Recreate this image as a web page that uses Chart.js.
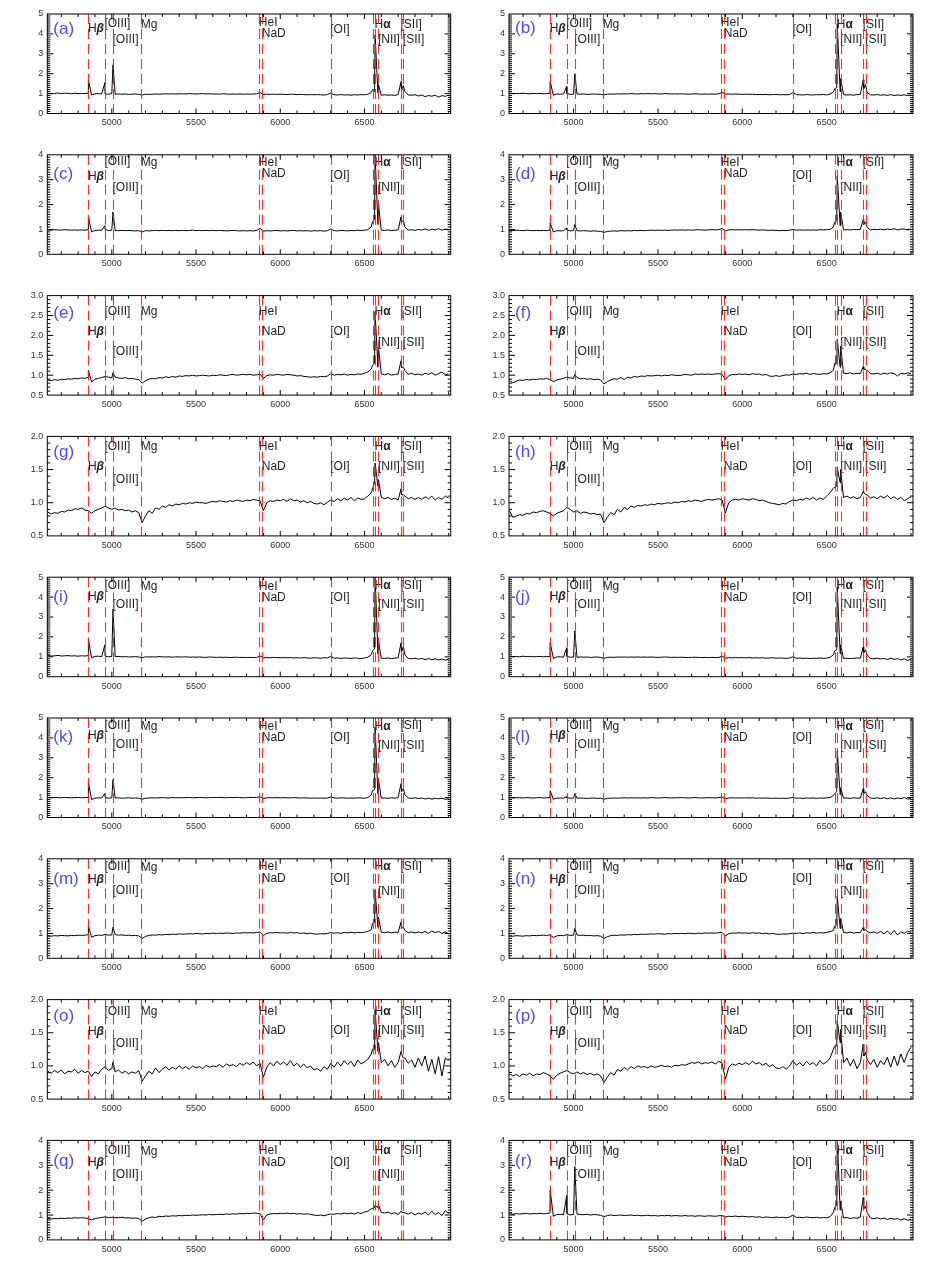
<!DOCTYPE html>
<html><head><meta charset="utf-8">
<script src="https://cdn.jsdelivr.net/npm/chart.js@4.4.1/dist/chart.umd.min.js"></script>
<style>
html,body{margin:0;padding:0;background:#fff;}
body{width:926px;height:1269px;position:relative;overflow:hidden;}
canvas{position:absolute;}
</style></head><body>
<script>
// ---------------- DATA ----------------
const gridWave = [4620,4640,4660,4680,4700,4720,4740,4760,4780,4800,
4820,4840,4860,4880,4900,4920,4940,4960,4980,5000,
5020,5040,5060,5080,5100,5120,5140,5160,5180,5200,
5220,5240,5260,5280,5300,5320,5340,5360,5380,5400,
5420,5440,5460,5480,5500,5520,5540,5560,5580,5600,
5620,5640,5660,5680,5700,5720,5740,5760,5780,5800,
5820,5840,5860,5880,5900,5920,5940,5960,5980,6000,
6020,6040,6060,6080,6100,6120,6140,6160,6180,6200,
6220,6240,6260,6280,6300,6320,6340,6360,6380,6400,
6420,6440,6460,6480,6500,6520,6540,6560,6580,6600,
6620,6640,6660,6680,6700,6720,6740,6760,6780,6800,
6820,6840,6860,6880,6900,6920,6940,6960,6980,7000];

// emission-line peak wavelengths (Hb, [OIII]4959, [OIII]5007, [NII]6548, Ha, [NII]6583, [SII]6717, [SII]6731)
const peakWave = [4861,4959,5007,6548,6563,6583,6717,6731];
// marker (dashed) line wavelengths
const markerWave = [4861,4959,5007,5175,5876,5893,6300,6548,6563,6583,6717,6731];

const xTickValues = [5000,5500,6000,6500];
const yTicks5 = [0,1,2,3,4,5];
const yTicks4 = [0,1,2,3,4];
const yTicks3 = [0.5,1.0,1.5,2.0,2.5,3.0];
const yTicks2 = [0.5,1.0,1.5,2.0];

const fluxA = [1.02,0.99,1.01,1.03,1.00,1.02,1.01,0.99,1.02,1.00,
1.01,1.00,1.03,0.93,0.99,1.00,0.98,0.98,0.97,1.00,
0.97,0.98,0.97,0.98,0.96,0.97,0.98,0.96,0.93,0.97,
0.96,0.97,0.98,0.97,0.98,0.99,0.98,0.99,0.98,0.99,
0.99,0.98,1.00,0.99,0.98,0.99,1.00,0.98,0.99,0.98,
0.98,0.97,0.99,0.98,0.97,0.98,0.97,0.98,0.97,0.98,
0.97,0.98,0.99,1.05,0.96,0.97,0.96,0.97,0.96,0.97,
0.96,0.95,0.97,0.96,0.95,0.96,0.95,0.94,0.95,0.94,
0.95,0.94,0.93,0.95,1.03,0.94,0.93,0.95,0.93,0.94,
0.92,0.94,0.93,0.95,0.94,0.97,1.05,1.10,1.05,0.92,
0.94,0.92,0.93,0.91,0.95,1.15,1.10,0.93,0.92,0.94,
0.88,0.93,0.85,0.90,0.87,0.92,0.82,0.90,0.86,0.93];
const peaksA = [1.67,1.55,2.45,1.2,3.95,1.45,1.6,1.4];

const fluxB = [1.02,1.00,1.01,1.00,1.02,1.00,0.99,1.01,1.00,1.01,
0.99,1.00,1.02,0.92,0.98,0.97,0.98,1.00,0.96,0.97,
0.98,0.97,0.98,0.96,0.97,0.98,0.97,0.96,0.94,0.97,
0.98,0.97,0.99,0.98,0.99,0.98,1.00,0.99,0.98,1.00,
0.99,1.00,0.99,1.00,0.99,0.98,1.00,0.99,0.98,0.99,
0.98,0.99,0.98,0.97,0.98,0.99,0.98,0.97,0.98,0.97,
0.98,0.97,0.99,1.06,0.97,0.98,0.97,0.98,0.97,0.96,
0.97,0.96,0.97,0.95,0.96,0.95,0.96,0.94,0.95,0.96,
0.94,0.95,0.94,0.95,1.05,0.95,0.94,0.93,0.95,0.94,
0.93,0.95,0.94,0.96,0.93,0.98,1.08,1.30,1.10,0.95,
0.93,0.94,0.92,0.95,0.96,1.25,1.05,0.94,0.93,0.95,
0.92,0.94,0.91,0.95,0.90,0.93,0.91,0.94,0.90,0.93];
const peaksB = [1.6,1.35,2.0,1.25,4.5,1.75,1.7,1.45];

const fluxC = [0.98,0.97,0.99,0.98,0.97,0.99,0.98,0.97,0.98,0.97,
0.98,0.97,0.99,0.90,0.96,0.97,0.96,1.00,0.95,0.97,
0.96,0.95,0.96,0.95,0.96,0.95,0.94,0.95,0.90,0.95,
0.94,0.95,0.96,0.95,0.96,0.95,0.96,0.95,0.96,0.95,
0.96,0.95,0.96,0.97,0.95,0.96,0.95,0.96,0.95,0.96,
0.95,0.96,0.95,0.94,0.95,0.96,0.95,0.94,0.95,0.94,
0.95,0.94,0.96,1.04,0.93,0.95,0.94,0.95,0.96,0.94,
0.95,0.94,0.95,0.96,0.94,0.95,0.94,0.95,0.93,0.95,
0.94,0.95,0.93,0.95,1.02,0.95,0.94,0.96,0.95,0.94,
0.96,0.95,0.97,0.95,0.97,0.99,1.10,1.40,1.20,0.97,
0.96,0.98,0.95,0.97,0.98,1.30,1.10,0.97,0.99,0.96,
1.00,0.97,1.02,0.96,1.01,0.98,1.03,0.97,1.01,0.98];
const peaksC = [1.5,1.15,1.7,1.3,4.05,2.0,1.5,1.35];

const fluxD = [0.96,0.95,0.97,0.96,0.95,0.97,0.96,0.95,0.96,0.95,
0.96,0.95,0.97,0.90,0.95,0.94,0.95,0.98,0.94,0.96,
0.95,0.94,0.95,0.94,0.93,0.94,0.93,0.92,0.88,0.92,
0.93,0.94,0.93,0.95,0.94,0.95,0.94,0.96,0.95,0.96,
0.95,0.96,0.97,0.96,0.97,0.96,0.97,0.96,0.97,0.98,
0.97,0.98,0.97,0.98,0.97,0.98,0.99,0.98,0.97,0.98,
0.99,0.98,0.99,1.03,0.94,0.98,0.99,0.98,0.99,0.98,
0.99,0.98,0.99,0.98,0.97,0.98,0.97,0.96,0.97,0.96,
0.95,0.96,0.95,0.97,1.00,0.97,0.98,0.97,0.98,0.97,
0.98,0.97,0.99,0.98,0.99,1.00,1.10,1.35,1.15,0.98,
0.99,0.98,1.00,0.99,1.00,1.20,1.08,0.98,1.00,0.99,
1.01,0.98,1.02,0.99,1.03,0.98,1.01,1.02,0.98,1.01];
const peaksD = [1.25,1.05,1.2,1.3,3.15,1.7,1.4,1.3];

const fluxE = [0.88,0.86,0.89,0.87,0.90,0.89,0.91,0.90,0.92,0.91,
0.93,0.92,0.95,0.83,0.90,0.92,0.94,0.97,0.95,0.93,
0.95,0.93,0.92,0.94,0.91,0.92,0.90,0.89,0.80,0.86,
0.90,0.92,0.91,0.94,0.93,0.96,0.94,0.97,0.95,0.98,
0.97,0.99,0.98,1.00,0.98,0.99,1.00,0.99,0.98,1.00,
0.99,1.01,1.00,0.99,1.01,1.02,1.00,1.01,1.02,1.01,
1.02,1.00,1.01,1.03,0.92,0.99,1.01,1.00,1.02,1.01,
1.00,1.02,1.01,1.00,0.98,0.99,0.97,0.96,0.95,0.96,
0.95,0.97,0.96,0.98,1.04,1.00,1.02,1.01,1.03,1.00,
1.02,1.01,1.03,1.02,1.05,1.08,1.15,1.30,1.20,1.03,
1.01,1.04,1.00,1.02,1.03,1.20,1.12,1.02,1.05,1.01,
1.03,1.00,1.05,1.02,1.06,1.00,1.04,1.08,1.01,1.03];
const peaksE = [1.12,null,1.06,1.25,2.6,1.7,1.36,1.2];

const fluxF = [0.87,0.81,0.85,0.88,0.87,0.89,0.88,0.90,0.89,0.91,
0.90,0.92,0.89,0.84,0.88,0.90,0.92,0.95,0.93,0.92,
0.94,0.91,0.92,0.90,0.91,0.89,0.90,0.88,0.78,0.84,
0.88,0.91,0.90,0.94,0.89,0.95,0.93,0.97,0.95,0.98,
0.97,0.99,0.98,0.99,1.00,0.98,1.00,0.99,1.01,1.00,
0.99,1.00,1.02,1.01,1.00,1.03,1.02,1.03,1.02,1.03,
1.02,1.03,1.04,1.02,0.90,0.98,1.02,1.01,1.03,1.02,
1.03,1.01,1.04,1.02,1.03,1.00,1.02,0.98,0.97,0.99,
0.97,0.99,1.01,1.00,1.03,1.02,1.04,1.03,1.05,1.02,
1.04,1.03,1.02,1.04,1.03,1.06,1.12,1.30,1.20,1.05,
1.04,1.06,1.03,1.05,1.04,1.15,1.12,1.04,1.03,1.05,
1.02,1.05,1.03,1.06,1.04,0.98,1.05,1.03,1.06,1.04];
const peaksF = [null,null,1.02,1.3,1.9,1.73,1.22,1.15];

const fluxG = [0.86,0.83,0.85,0.84,0.87,0.86,0.89,0.88,0.91,0.90,
0.92,0.89,0.88,0.84,0.88,0.90,0.92,0.95,0.92,0.90,
0.92,0.89,0.90,0.88,0.89,0.86,0.88,0.85,0.70,0.80,
0.88,0.84,0.92,0.90,0.95,0.93,0.97,0.95,0.98,0.97,
0.99,0.98,1.00,0.99,1.01,1.00,1.00,0.99,1.01,1.02,
1.01,1.03,1.02,1.01,1.03,1.02,1.04,1.03,1.02,1.04,
1.03,1.05,1.04,1.03,0.88,1.00,1.03,1.02,1.04,1.03,
1.05,1.02,1.06,1.03,1.04,1.01,1.03,1.00,1.02,0.99,
0.98,1.00,0.97,1.01,1.04,1.02,1.06,1.03,1.07,1.04,
1.08,1.03,1.07,1.05,1.06,1.10,1.15,1.30,1.25,1.08,
1.06,1.08,1.05,1.07,1.04,1.12,1.10,1.06,1.08,1.05,
1.08,1.05,1.09,1.06,1.10,1.04,1.08,1.05,1.10,1.07];
const peaksG = [null,null,null,null,1.6,1.35,1.21,1.12];

const fluxH = [0.88,0.78,0.80,0.82,0.81,0.84,0.83,0.86,0.85,0.87,
0.88,0.86,0.84,0.80,0.84,0.86,0.88,0.93,0.90,0.86,
0.88,0.84,0.86,0.85,0.83,0.84,0.82,0.83,0.70,0.78,
0.85,0.82,0.90,0.86,0.93,0.90,0.95,0.93,0.96,0.95,
0.97,0.96,0.98,0.97,0.99,0.98,0.99,1.00,0.99,1.01,
1.00,1.02,1.01,1.03,1.02,1.04,1.03,1.02,1.04,1.05,
1.04,1.05,1.06,1.04,0.85,1.00,1.04,1.05,1.04,1.06,
1.05,1.04,1.06,1.05,1.03,1.04,1.02,1.00,0.99,0.98,
0.97,0.99,0.98,1.02,1.04,1.03,1.05,1.04,1.07,1.05,
1.08,1.04,1.07,1.05,1.10,1.15,1.22,1.25,1.30,1.08,
1.10,1.07,1.09,1.06,1.08,1.15,1.12,1.07,1.09,1.06,
1.10,1.07,1.11,1.06,1.09,1.05,1.08,1.03,1.06,1.09];
const peaksH = [null,null,null,null,1.53,1.5,1.17,1.12];

const fluxI = [1.06,1.04,1.05,1.07,1.04,1.05,1.06,1.04,1.05,1.03,
1.05,1.04,1.06,0.95,1.02,1.03,1.01,1.04,1.00,1.02,
1.01,1.02,1.00,1.01,0.99,1.00,1.01,0.99,0.95,1.00,
0.99,1.00,0.99,1.01,1.00,0.99,1.00,0.98,1.00,0.99,
0.99,1.00,0.98,0.99,0.98,0.99,0.98,0.97,0.99,0.98,
0.97,0.98,0.97,0.98,0.96,0.97,0.98,0.96,0.97,0.96,
0.97,0.96,0.97,1.04,0.95,0.96,0.95,0.97,0.96,0.95,
0.96,0.95,0.96,0.94,0.95,0.94,0.96,0.94,0.93,0.95,
0.94,0.93,0.95,0.94,1.02,0.93,0.94,0.92,0.94,0.93,
0.92,0.94,0.93,0.91,0.94,0.98,1.10,1.40,1.15,0.93,
0.92,0.94,0.91,0.93,0.95,1.25,1.10,0.92,0.90,0.93,
0.88,0.92,0.86,0.91,0.85,0.90,0.84,0.89,0.83,0.88];
const peaksI = [1.85,1.6,3.4,1.3,5.2,1.8,1.7,1.5];

const fluxJ = [1.03,1.01,1.02,1.00,1.03,1.01,1.02,1.00,1.01,1.02,
1.00,1.01,1.02,0.92,0.99,1.00,0.98,1.02,0.98,0.99,
0.98,0.99,0.98,0.99,0.97,0.98,0.99,0.97,0.92,0.97,
0.98,0.97,0.99,0.98,0.99,0.98,0.99,0.98,0.99,0.98,
0.99,0.98,0.99,0.98,0.97,0.98,0.99,0.98,0.97,0.98,
0.97,0.98,0.97,0.96,0.97,0.98,0.97,0.96,0.97,0.96,
0.97,0.96,0.97,1.03,0.93,0.96,0.95,0.96,0.95,0.96,
0.95,0.96,0.94,0.95,0.94,0.95,0.93,0.94,0.95,0.93,
0.94,0.93,0.92,0.94,1.00,0.93,0.94,0.92,0.93,0.91,
0.93,0.92,0.94,0.92,0.93,0.97,1.10,1.35,1.15,0.92,
0.93,0.91,0.92,0.94,0.93,1.20,1.10,0.92,0.90,0.93,
0.89,0.92,0.86,0.93,0.87,0.91,0.84,0.90,0.82,0.88];
const peaksJ = [1.7,1.45,2.3,1.3,4.5,1.6,1.5,1.35];

const fluxK = [1.00,0.99,1.01,1.00,0.99,1.01,1.00,0.99,1.00,1.01,
0.99,1.00,1.01,0.90,0.98,0.99,0.98,1.01,0.97,0.99,
0.98,0.99,0.97,0.98,0.99,0.97,0.98,0.97,0.92,0.97,
0.98,0.99,0.98,0.99,1.00,0.99,0.98,1.00,0.99,1.00,
0.99,1.00,1.01,0.99,1.00,1.01,1.00,0.99,1.00,1.01,
1.00,1.01,1.00,0.99,1.01,1.00,1.01,1.00,0.99,1.00,
1.01,1.00,1.01,1.04,0.95,0.99,1.00,0.99,1.00,0.99,
1.00,0.99,0.98,1.00,0.99,0.98,0.99,0.98,0.97,0.98,
0.97,0.98,0.97,0.98,1.03,0.98,0.97,0.99,0.98,0.97,
0.98,0.97,0.99,0.98,0.97,1.00,1.12,1.40,1.20,0.97,
0.98,0.96,0.99,0.97,1.00,1.30,1.15,0.98,0.96,0.99,
0.95,0.98,0.93,0.97,0.92,0.96,0.94,0.97,0.91,0.95];
const peaksK = [1.75,1.2,1.9,1.35,4.55,1.9,1.7,1.45];

const fluxL = [0.99,0.98,1.00,0.99,0.98,1.00,0.99,0.98,0.99,1.00,
0.98,0.99,1.00,0.92,0.97,0.98,0.97,0.99,0.97,0.98,
0.97,0.98,0.97,0.96,0.97,0.98,0.96,0.97,0.92,0.96,
0.97,0.98,0.97,0.98,0.99,0.98,0.99,0.98,0.99,0.98,
0.99,0.98,1.00,0.99,0.98,0.99,1.00,0.99,0.98,0.99,
0.99,1.00,0.99,0.98,0.99,1.00,0.99,0.98,0.99,1.00,
0.99,0.98,1.00,1.02,0.94,0.98,0.99,0.98,0.99,0.98,
0.99,0.98,0.99,0.97,0.98,0.97,0.98,0.97,0.96,0.97,
0.96,0.97,0.96,0.98,1.01,0.97,0.98,0.96,0.98,0.97,
0.98,0.96,0.98,0.97,0.99,1.00,1.10,1.30,1.15,0.97,
0.98,0.96,0.99,0.97,0.98,1.20,1.10,0.98,0.96,0.99,
0.95,1.00,0.94,0.99,0.93,0.98,0.95,1.00,0.92,0.97];
const peaksL = [1.35,1.05,1.2,1.2,3.35,1.5,1.45,1.3];

const fluxM = [0.90,0.89,0.91,0.90,0.92,0.91,0.90,0.92,0.91,0.93,
0.92,0.93,0.95,0.85,0.91,0.93,0.92,0.96,0.93,0.94,
0.95,0.93,0.94,0.92,0.93,0.91,0.92,0.90,0.80,0.88,
0.92,0.94,0.93,0.95,0.94,0.96,0.95,0.97,0.96,0.98,
0.97,0.98,0.99,0.98,1.00,0.99,0.98,1.00,0.99,1.01,
1.00,1.01,1.00,1.02,1.01,1.00,1.02,1.01,1.03,1.02,
1.03,1.02,1.04,1.05,0.92,1.00,1.03,1.02,1.04,1.02,
1.03,1.01,1.04,1.02,1.03,1.00,1.02,0.99,1.01,0.98,
0.97,0.99,0.98,1.00,1.03,1.01,1.03,1.00,1.04,1.02,
1.05,1.02,1.04,1.03,1.05,1.08,1.15,1.45,1.25,1.05,
1.03,1.06,1.02,1.05,1.04,1.20,1.12,1.03,1.06,1.02,
1.06,1.02,1.08,1.00,1.10,1.03,1.08,1.00,1.06,0.98];
const peaksM = [1.3,null,1.25,1.4,2.75,1.65,1.45,1.25];

const fluxN = [0.90,0.89,0.91,0.90,0.89,0.91,0.90,0.92,0.91,0.92,
0.93,0.92,0.94,0.84,0.90,0.92,0.91,0.95,0.92,0.93,
0.94,0.92,0.93,0.91,0.92,0.90,0.91,0.89,0.80,0.87,
0.91,0.93,0.92,0.94,0.93,0.95,0.94,0.96,0.95,0.97,
0.96,0.97,0.98,0.97,0.99,0.98,0.97,0.99,0.98,1.00,
0.99,1.00,0.99,1.01,1.00,0.99,1.01,1.00,1.02,1.01,
1.02,1.01,1.03,1.04,0.90,0.99,1.02,1.01,1.03,1.01,
1.02,1.00,1.03,1.01,1.02,0.99,1.01,0.98,1.00,0.97,
0.96,0.98,0.97,0.99,1.01,1.00,1.02,0.99,1.03,1.01,
1.04,1.01,1.03,1.02,1.04,1.07,1.12,1.35,1.20,1.04,
1.02,1.05,1.01,1.04,1.03,1.12,1.08,1.02,1.06,1.00,
1.08,0.98,1.10,0.96,1.12,0.94,1.06,1.00,1.10,1.04];
const peaksN = [null,null,1.2,1.3,2.5,1.6,1.25,1.15];

const fluxO = [0.92,0.89,0.93,0.90,0.94,0.88,0.92,0.91,0.95,0.89,
0.93,0.90,0.92,0.84,0.91,0.88,0.95,0.99,0.93,0.96,
0.91,0.94,0.89,0.92,0.88,0.91,0.89,0.93,0.77,0.85,
0.92,0.88,0.97,0.90,0.95,0.99,0.94,0.98,0.95,1.00,
0.96,0.99,0.95,1.00,0.97,0.99,0.96,1.01,0.98,1.00,
0.99,1.02,0.98,1.03,1.00,1.02,0.99,1.04,1.01,1.05,
1.02,1.06,1.00,1.04,0.83,0.98,1.05,1.00,1.07,1.02,
1.06,1.01,1.08,1.00,1.04,0.98,1.03,0.97,1.00,0.94,
0.96,0.92,0.99,0.95,1.04,0.98,1.06,1.00,1.08,1.02,
1.07,0.99,1.09,1.03,1.06,1.10,1.18,1.25,1.22,1.05,
1.10,1.00,1.08,0.98,1.05,1.18,1.12,1.04,1.09,0.98,
1.12,1.00,1.15,0.92,1.10,0.88,1.14,0.85,1.12,1.08];
const peaksO = [null,null,1.06,1.25,1.85,1.35,1.22,1.12];

const fluxP = [0.88,0.85,0.87,0.84,0.88,0.86,0.89,0.85,0.88,0.87,
0.90,0.88,0.85,0.80,0.86,0.89,0.91,0.93,0.90,0.88,
0.91,0.88,0.90,0.87,0.89,0.86,0.88,0.85,0.75,0.83,
0.90,0.86,0.95,0.92,0.98,0.94,0.99,0.96,1.00,0.98,
0.99,0.97,1.00,0.98,0.99,1.01,0.99,1.00,0.98,1.01,
1.00,1.02,1.01,1.03,1.05,1.04,1.06,1.03,1.05,1.04,
1.06,1.03,1.07,1.04,0.80,0.98,1.03,1.01,1.04,1.02,
1.05,1.02,1.07,1.03,1.05,1.01,1.04,0.99,1.02,0.97,
0.96,0.99,0.95,1.00,1.08,1.01,1.05,1.00,1.07,1.02,
1.05,1.00,1.08,1.03,1.06,1.12,1.25,1.30,1.35,1.05,
1.12,1.00,1.10,0.96,1.05,1.15,1.10,1.02,1.10,0.98,
1.08,1.02,1.13,0.98,1.15,1.00,1.18,1.05,1.20,1.28];
const peaksP = [null,null,null,1.3,1.68,1.55,1.33,1.2];

const fluxQ = [0.85,0.84,0.86,0.85,0.87,0.86,0.88,0.87,0.89,0.88,
0.89,0.88,0.86,0.80,0.86,0.88,0.90,0.93,0.89,0.91,
0.90,0.89,0.91,0.88,0.89,0.87,0.88,0.86,0.75,0.84,
0.89,0.92,0.90,0.95,0.93,0.96,0.95,0.97,0.96,0.98,
0.97,0.99,0.98,1.00,0.99,1.00,1.01,1.00,1.02,1.01,
1.02,1.03,1.02,1.04,1.03,1.05,1.04,1.06,1.05,1.07,
1.06,1.08,1.07,1.05,0.80,1.00,1.04,1.06,1.05,1.07,
1.06,1.08,1.05,1.07,1.04,1.06,1.03,1.05,1.02,1.00,
0.98,1.00,0.97,1.01,1.04,1.03,1.06,1.04,1.08,1.05,
1.08,1.04,1.10,1.06,1.12,1.15,1.25,1.30,1.28,1.10,
1.08,1.12,1.05,1.10,1.02,1.12,1.08,1.04,1.10,1.00,
1.08,1.03,1.12,1.00,1.15,1.02,1.10,0.98,1.18,1.05];
const peaksQ = [null,null,null,null,1.4,1.42,1.15,null];

const fluxR = [1.05,1.03,1.06,1.04,1.05,1.07,1.04,1.06,1.05,1.07,
1.05,1.06,1.08,0.95,1.02,1.03,1.01,1.06,1.00,1.03,
1.04,1.02,1.01,1.03,1.00,1.02,1.01,0.99,0.93,0.98,
1.00,0.98,0.99,1.00,0.98,0.99,1.00,0.98,0.99,0.97,
0.98,0.99,0.97,0.98,0.96,0.98,0.97,0.99,0.96,0.98,
0.97,0.96,0.98,0.96,0.97,0.95,0.97,0.96,0.95,0.97,
0.96,0.95,0.97,0.98,0.92,0.95,0.94,0.96,0.93,0.95,
0.94,0.92,0.94,0.91,0.93,0.90,0.92,0.91,0.89,0.92,
0.90,0.91,0.89,0.92,1.00,0.90,0.91,0.89,0.92,0.90,
0.89,0.91,0.88,0.90,0.89,0.93,1.10,1.40,1.20,0.88,
0.90,0.86,0.89,0.87,0.92,1.25,1.10,0.88,0.85,0.89,
0.84,0.88,0.82,0.87,0.83,0.86,0.80,0.85,0.79,0.83];
const peaksR = [2.0,1.78,2.95,1.3,4.2,1.55,1.7,1.35];

// ---------------- LAYOUT / STYLE ----------------
const X_MIN = 4617, X_MAX = 7012;
const COL_L = [47.3, 509.0], COL_R = [450.7, 913.0];
const ROW_T0 = 14, ROW_DY = 140.8, FRAME_H = 99.5;

const labelDefs = [
  {parts:[['H',''],['β','italic bold ']], w:4861},
  {parts:[['[OIII]','']], w:4959},
  {parts:[['[OIII]','']], w:5007},
  {parts:[['Mg','']], w:5175},
  {parts:[['HeI','']], w:5876},
  {parts:[['NaD','']], w:5893},
  {parts:[['[OI]','']], w:6300},
  {parts:[['H',''],['α','bold ']], w:6563},
  {parts:[['[NII]','']], w:6583},
  {parts:[['[SII]','']], w:6717},
  {parts:[['[SII]','']], w:6731}
];
// label vertical offsets from frame top (px), order as labelDefs
const LAY = {
  A:[15,10,25.5,11,9,20,15.5,10.5,25.5,10.5,25.5],
  C:[22,7,32.5,7.5,8,19,20.5,8,33,7.5,null],
  E:[36.4,16.4,56.4,16.4,16.4,36.4,36.4,16.4,47.4,16.4,47.4],
  G:[30.6,10,43.6,10,10,30.5,30,10,30.5,10,30.5],
  I:[19,8,27,9,9,20,20,8.5,27,8,27],
  K:[18,8,27,9,9,20,20,9,28,8,28],
  M:[21,7.5,32,8.5,7.5,20,20,7.5,33,7.5,null],
  O:[32,12,43.7,12,12,31,31,12,31,12,31],
  Q:[22.6,10.6,34.6,11.6,10.6,22.6,22.6,10.6,34.6,10.6,null]
};

const panels = [
  {id:'a', flux:fluxA, peaks:peaksA, yt:yTicks5, lay:'A', let:15},
  {id:'b', flux:fluxB, peaks:peaksB, yt:yTicks5, lay:'A', let:14},
  {id:'c', flux:fluxC, peaks:peaksC, yt:yTicks4, lay:'C', let:20},
  {id:'d', flux:fluxD, peaks:peaksD, yt:yTicks4, lay:'C', let:20},
  {id:'e', flux:fluxE, peaks:peaksE, yt:yTicks3, lay:'E', let:17.5},
  {id:'f', flux:fluxF, peaks:peaksF, yt:yTicks3, lay:'E', let:17.5},
  {id:'g', flux:fluxG, peaks:peaksG, yt:yTicks2, lay:'G', let:16},
  {id:'h', flux:fluxH, peaks:peaksH, yt:yTicks2, lay:'G', let:16},
  {id:'i', flux:fluxI, peaks:peaksI, yt:yTicks5, lay:'I', let:20},
  {id:'j', flux:fluxJ, peaks:peaksJ, yt:yTicks5, lay:'I', let:20},
  {id:'k', flux:fluxK, peaks:peaksK, yt:yTicks5, lay:'K', let:19.5},
  {id:'l', flux:fluxL, peaks:peaksL, yt:yTicks5, lay:'K', let:19.5},
  {id:'m', flux:fluxM, peaks:peaksM, yt:yTicks4, lay:'M', let:20.5},
  {id:'n', flux:fluxN, peaks:peaksN, yt:yTicks4, lay:'M', let:20.5},
  {id:'o', flux:fluxO, peaks:peaksO, yt:yTicks2, lay:'O', let:17},
  {id:'p', flux:fluxP, peaks:peaksP, yt:yTicks2, lay:'O', let:17},
  {id:'q', flux:fluxQ, peaks:peaksQ, yt:yTicks4, lay:'Q', let:20.5},
  {id:'r', flux:fluxR, peaks:peaksR, yt:yTicks4, lay:'Q', let:20.5}
];

const FONT = '"Liberation Sans", Arial, sans-serif';

function buildPoints(flux, peaks) {
  const pts = gridWave.map((w, i) => ({x: w, y: flux[i]}));
  peakWave.forEach((w, i) => { if (peaks[i] !== null) pts.push({x: w, y: peaks[i]}); });
  pts.sort((a, b) => a.x - b.x);
  return pts;
}

const decor = {
  id: 'decor',
  afterDatasetsDraw(chart) {
    const o = chart.options.plugins.decor;
    const {ctx, chartArea: a, scales: {x}} = chart;
    ctx.save();
    ctx.fillStyle = '#222';
    ctx.textBaseline = 'middle';
    ctx.textAlign = 'left';
    const offs = LAY[o.lay];
    labelDefs.forEach((lb, i) => {
      if (offs[i] === null) return;
      let px = x.getPixelForValue(lb.w) - 0.5;
      const py = a.top + offs[i];
      lb.parts.forEach(([t, st]) => {
        ctx.font = st + '12px ' + FONT;
        ctx.fillText(t, px, py);
        px += ctx.measureText(t).width;
      });
    });
    ctx.strokeStyle = 'rgba(255,20,20,0.9)';
    ctx.lineWidth = 1.1;
    ctx.setLineDash([10, 5]);
    markerWave.forEach(w => {
      const px = Math.round(x.getPixelForValue(w)) + 0.5;
      ctx.beginPath();
      ctx.moveTo(px, a.top);
      ctx.lineTo(px, a.bottom);
      ctx.stroke();
    });
    ctx.restore();
  },
  afterDraw(chart) {
    const o = chart.options.plugins.decor;
    const {ctx, chartArea: a, scales: {x, y}} = chart;
    ctx.save();
    ctx.strokeStyle = '#000';
    ctx.lineWidth = 1;
    ctx.setLineDash([]);
    ctx.strokeRect(a.left, a.top, a.right - a.left, a.bottom - a.top);
    ctx.beginPath();
    for (let w = 4700; w <= 7000; w += 100) {
      const px = x.getPixelForValue(w);
      if (px <= a.left || px >= a.right) continue;
      const len = xTickValues.includes(w) ? 5 : 3;
      ctx.moveTo(px, a.bottom); ctx.lineTo(px, a.bottom - len);
      ctx.moveTo(px, a.top); ctx.lineTo(px, a.top + len);
    }
    const yt = o.yt;
    const k0 = Math.round(yt[0] * 10), k1 = Math.round(yt[yt.length - 1] * 10);
    for (let k = k0 + 1; k < k1; k++) {
      const v = k / 10;
      const py = y.getPixelForValue(v);
      const len = yt.some(t => Math.abs(t - v) < 1e-6) ? 6 : 3;
      ctx.moveTo(a.left, py); ctx.lineTo(a.left + len, py);
      ctx.moveTo(a.right, py); ctx.lineTo(a.right - len, py);
    }
    ctx.stroke();
    ctx.fillStyle = '#4b4bff';
    ctx.font = '17px ' + FONT;
    ctx.textBaseline = 'middle';
    ctx.textAlign = 'left';
    ctx.fillText('(' + o.id + ')', a.left + 6, a.top + o.letY);
    ctx.restore();
  }
};

panels.forEach((p, idx) => {
  const col = idx % 2, row = Math.floor(idx / 2);
  const L = COL_L[col], R = COL_R[col];
  const T = ROW_T0 + row * ROW_DY, B = T + FRAME_H;
  const cl = Math.floor(L) - 44, ct = Math.floor(T) - 10;
  const cw = Math.ceil(R) + 8 - cl, ch = Math.ceil(B) + 24 - ct;
  const padL = L - cl, padT = T - ct, padR = cl + cw - R, padB = ct + ch - B;
  const cv = document.createElement('canvas');
  cv.width = cw; cv.height = ch;
  cv.style.left = cl + 'px'; cv.style.top = ct + 'px';
  cv.style.width = cw + 'px'; cv.style.height = ch + 'px';
  document.body.appendChild(cv);
  const ymin = p.yt[0], ymax = p.yt[p.yt.length - 1];
  const dec = (ymin % 1 !== 0);
  new Chart(cv, {
    type: 'line',
    data: { datasets: [{ data: buildPoints(p.flux, p.peaks), borderColor: '#000', borderWidth: 1,
      pointRadius: 0, tension: 0, fill: false }] },
    options: {
      responsive: false, devicePixelRatio: 1, animation: false,
      layout: { padding: { left: 0, top: padT, right: padR, bottom: 0 } },
      plugins: { legend: { display: false }, tooltip: { enabled: false },
        decor: { lay: p.lay, yt: p.yt, id: p.id, letY: p.let } },
      scales: {
        x: { type: 'linear', min: X_MIN, max: X_MAX,
          grid: { display: false, drawTicks: false }, border: { display: false },
          afterBuildTicks: s => { s.ticks = xTickValues.map(v => ({value: v})); },
          afterFit: s => { s.height = padB; },
          ticks: { autoSkip: false, maxRotation: 0, padding: 4, color: '#333',
            font: { family: FONT, size: 9 }, callback: v => String(v) } },
        y: { type: 'linear', min: ymin, max: ymax,
          grid: { display: false, drawTicks: false }, border: { display: false },
          afterBuildTicks: s => { s.ticks = p.yt.map(v => ({value: v})); },
          afterFit: s => { s.width = padL; },
          ticks: { autoSkip: false, padding: 4, color: '#333',
            font: { family: FONT, size: 9 }, callback: v => dec ? v.toFixed(1) : String(v) } }
      }
    },
    plugins: [decor]
  });
});
</script>
</body></html>
